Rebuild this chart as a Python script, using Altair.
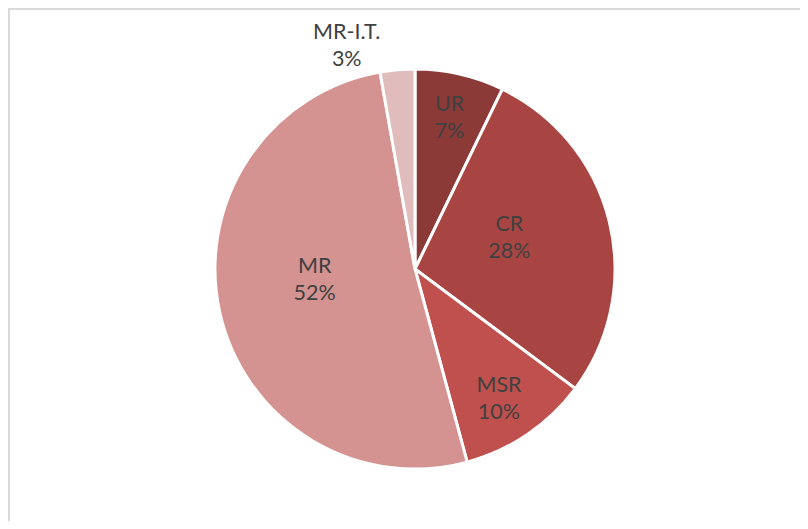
import math
import altair as alt
import pandas as pd

categories = ["UR", "CR", "MSR", "MR", "MR-I.T."]
shares = [7.2, 28.0, 10.6, 51.4, 2.8]
pct_labels = ["7%", "28%", "10%", "52%", "3%"]
colors = ["#8b3a37", "#a84542", "#c0504d", "#d49391", "#e0bcbc"]
label_radius = [154, 99, 155, 101, 233]
label_nudge_deg = [0, -4, 1.4, 6, -12]

W, H = 792, 513
CX, CY, R = 407, 261, 200
LINE_H = 27

total = sum(shares)
rows = []
cum = 0.0
for i, (c, s, p, lr, nd) in enumerate(zip(categories, shares, pct_labels, label_radius, label_nudge_deg)):
    mid = (cum + s / 2) / total * 360 + nd
    cum += s
    a = math.radians(mid)
    rows.append({
        "idx": i, "cat": c, "share": s, "label": f"{c}\n{p}",
        "lx": CX + lr * math.sin(a), "ly": CY - lr * math.cos(a),
    })
df = pd.DataFrame(rows)

base = alt.Chart(df)

pie = base.mark_arc(outerRadius=R, stroke="white", strokeWidth=3).encode(
    theta=alt.Theta("share:Q", stack=True),
    order=alt.Order("idx:Q"),
    color=alt.Color("cat:N", scale=alt.Scale(domain=categories, range=colors), legend=None),
    x=alt.value(CX),
    y=alt.value(CY),
)

labels = base.mark_text(
    font="Lato", fontSize=21.5, color="#404040", lineBreak="\n", lineHeight=LINE_H,
    align="center", baseline="middle", dy=-LINE_H / 2,
).encode(
    x=alt.X("lx:Q", scale=None, axis=None),
    y=alt.Y("ly:Q", scale=None, axis=None),
    text="label:N",
)

frame_top = alt.Chart(df).mark_rule(color="#d9d9d9", strokeWidth=2).encode(
    x=alt.value(0), x2=alt.value(W), y=alt.value(1)
)
frame_left = alt.Chart(df).mark_rule(color="#d9d9d9", strokeWidth=2).encode(
    x=alt.value(1), y=alt.value(0), y2=alt.value(H)
)

chart = alt.layer(frame_top, frame_left, pie, labels).properties(
    width=W, height=H, autosize=alt.AutoSizeParams(type="none"), padding=0,
    background="white",
).configure_view(stroke=None)

chart.save("out.html", embed_options={"renderer": "svg", "actions": False})
